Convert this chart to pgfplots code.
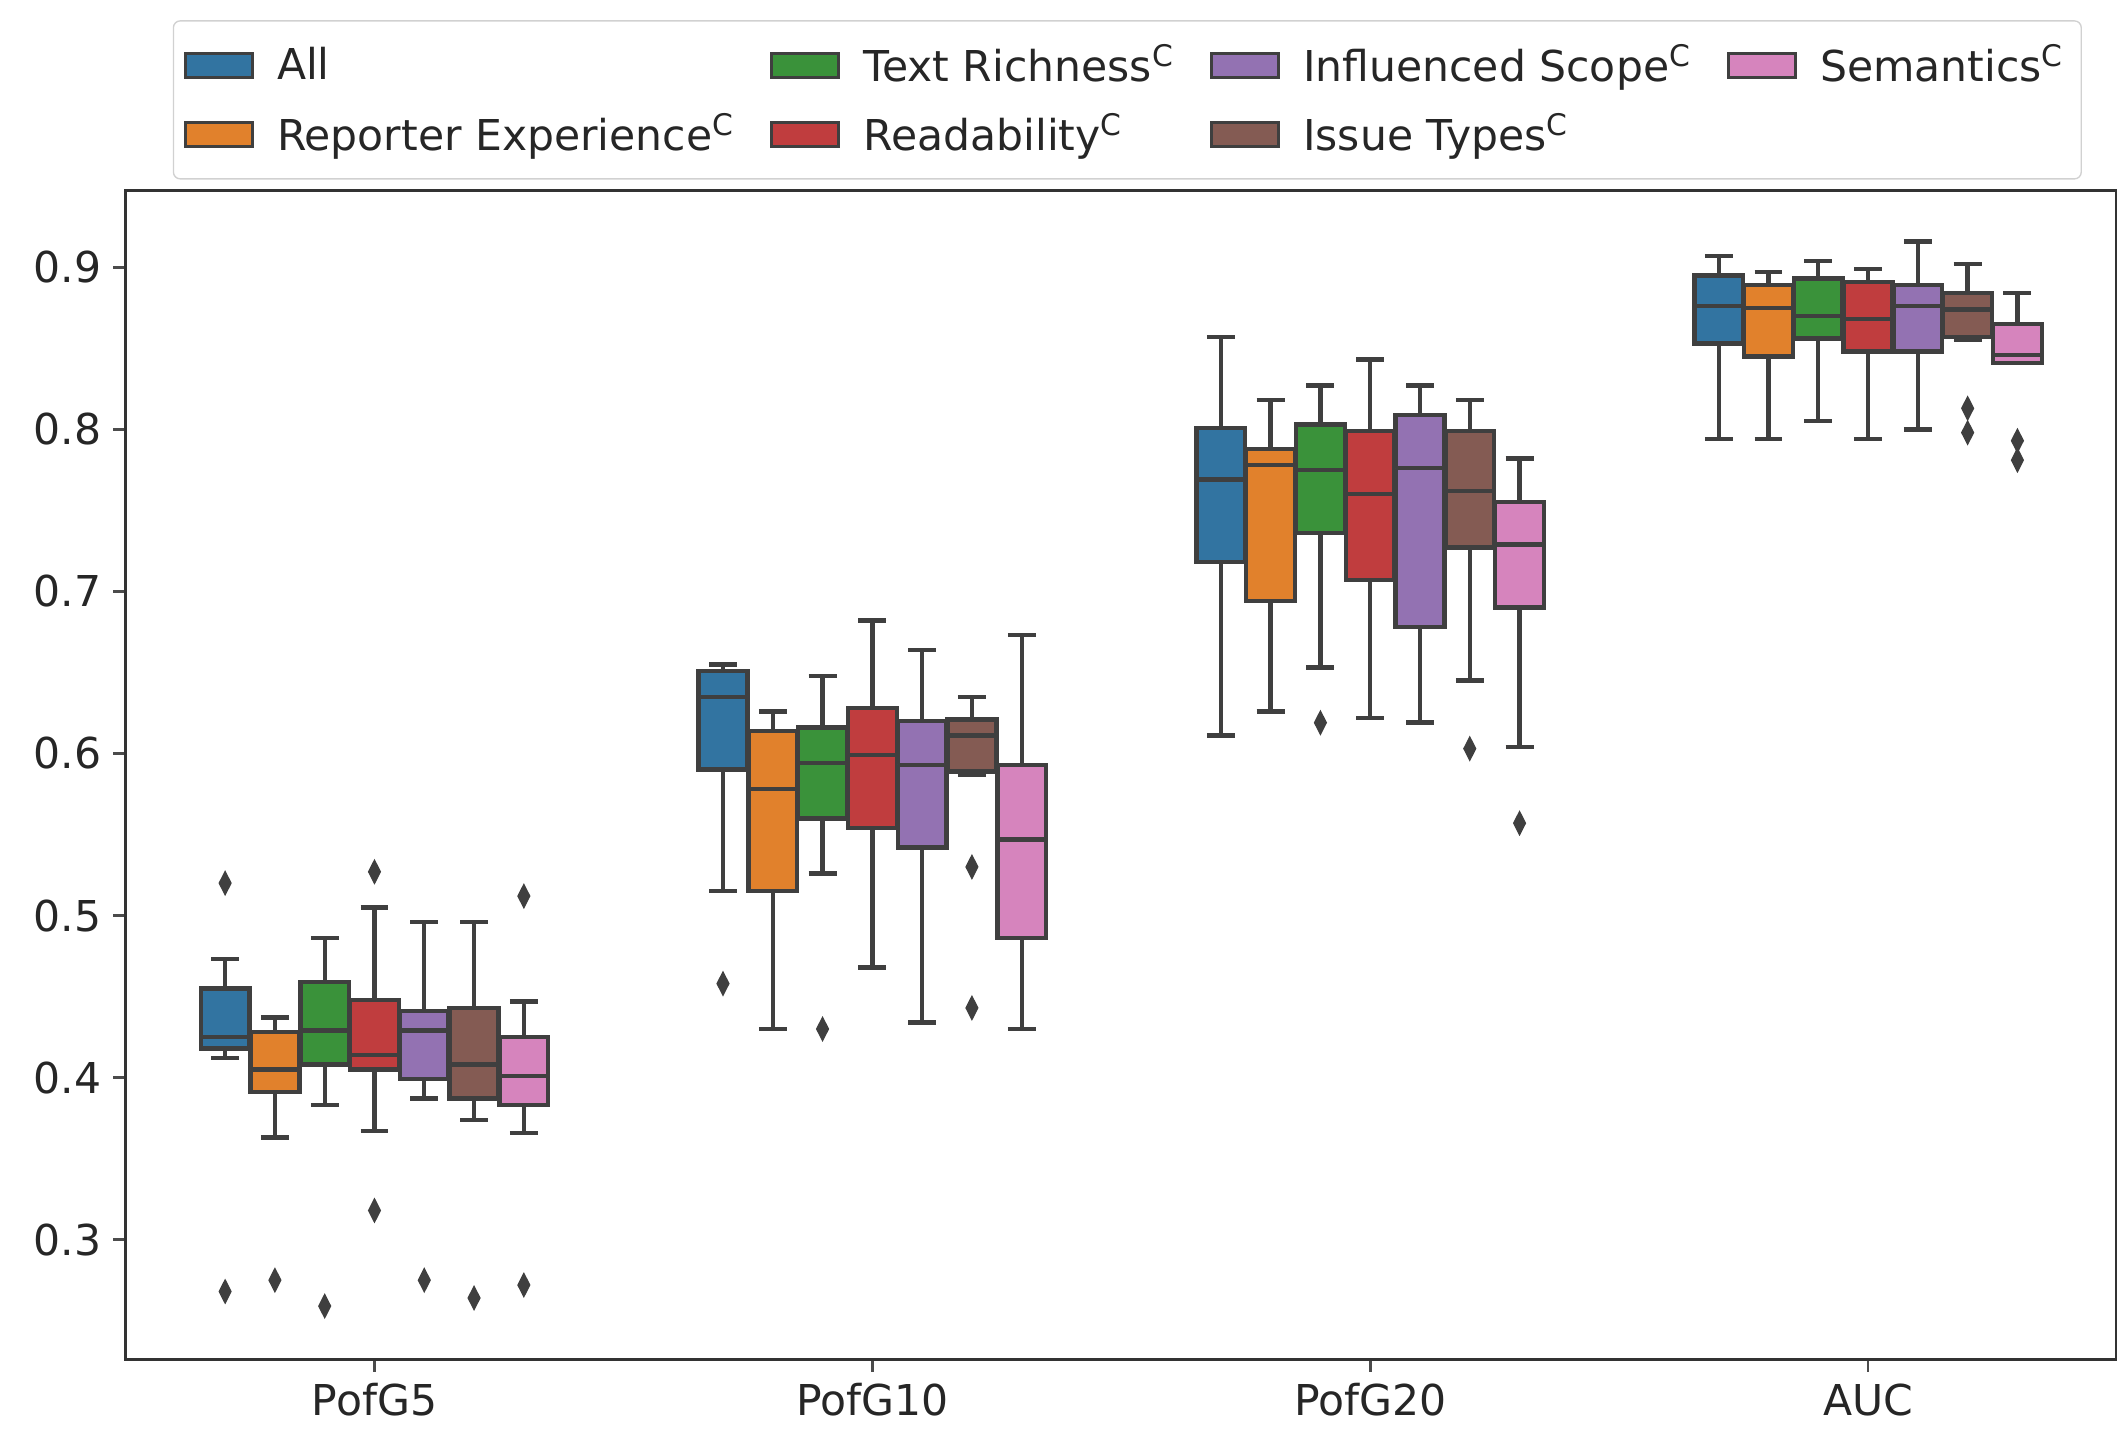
\documentclass[border=0pt]{standalone}
\usepackage{fontspec}
\setmainfont{DejaVu Sans}
\usepackage{pgfplots}
\pgfplotsset{compat=1.18}
\usepgfplotslibrary{statistics}

\definecolor{cAll}{HTML}{3274A1}
\definecolor{cRep}{HTML}{E1812C}
\definecolor{cTR}{HTML}{3A923A}
\definecolor{cRead}{HTML}{C03D3E}
\definecolor{cIS}{HTML}{9372B2}
\definecolor{cIT}{HTML}{845B53}
\definecolor{cSem}{HTML}{D684BD}
\definecolor{edge}{HTML}{3F3F3F}

\pgfplotsset{
  bxs/.style={forget plot, draw=edge, line width=1.3pt, solid,
    mark=diamond*, mark size=3.4pt,
    mark options={fill=edge, draw=edge, xscale=0.68, solid, line width=0.4pt},
    boxplot/draw direction=y,
    boxplot/box extend=0.098, boxplot/whisker extend=0.056},
  legpatch/.style={legend image code/.code={\draw[##1, draw=edge, line width=0.9pt, sharp corners] (0pt,-3.6pt) rectangle (20pt,3.6pt);}},
}

% position, colour, lower whisker, lower quartile, median, upper quartile, upper whisker, outliers
\newcommand{\bx}[8]{%
  \addplot[bxs, fill=#2, boxplot prepared={draw position=#1, lower whisker=#3,
    lower quartile=#4, median=#5, upper quartile=#6, upper whisker=#7}] coordinates {#8};}

\begin{document}
\begin{tikzpicture}
\begin{axis}[
  at={(37.2pt,20.4pt)}, anchor=south west,
  scale only axis, width=590pt, height=346.4pt,
  xmin=-0.5, xmax=3.5, ymin=0.226, ymax=0.9475,
  xtick={0,1,2,3}, xticklabels={PofG5,PofG10,PofG20,AUC},
  ytick={0.3,0.4,0.5,0.6,0.7,0.8,0.9},
  yticklabel style={/pgf/number format/.cd, fixed, precision=1, zerofill},
  /pgf/number format/assume math mode=true,
  tick label style={font=\fontsize{12.6}{14}\selectfont, text=black!85},
  tick align=outside, major tick length=3.6pt,
  xtick pos=bottom, ytick pos=left,
  tick style={draw=black!70, line width=0.8pt},
  axis line style={draw=black!80, line width=1pt},
  legend columns=4,
  legend cell align=left,
  legend style={at={(0.0237,1.1455)}, anchor=north west,
    draw=black!18, rounded corners=2pt, fill=white,
    font=\fontsize{12.6}{14}\selectfont, text=black!85,
    row sep=4pt, inner xsep=3pt, inner ysep=5pt,
    /tikz/every odd column/.append style={column sep=4.8pt},
    /tikz/every even column/.append style={column sep=8.4pt}},
]
% PofG5
\bx{-0.3}{cAll}{0.412}{0.418}{0.425}{0.455}{0.473}{(0,0.520) (0,0.268)}
\bx{-0.2}{cRep}{0.363}{0.391}{0.405}{0.428}{0.437}{(0,0.275)}
\bx{-0.1}{cTR}{0.383}{0.408}{0.429}{0.459}{0.486}{(0,0.259)}
\bx{0.0}{cRead}{0.367}{0.405}{0.414}{0.448}{0.505}{(0,0.527) (0,0.318)}
\bx{0.1}{cIS}{0.387}{0.399}{0.429}{0.441}{0.496}{(0,0.275)}
\bx{0.2}{cIT}{0.374}{0.387}{0.408}{0.443}{0.496}{(0,0.264)}
\bx{0.3}{cSem}{0.366}{0.383}{0.401}{0.425}{0.447}{(0,0.512) (0,0.272)}
% PofG10
\bx{0.7}{cAll}{0.515}{0.590}{0.635}{0.651}{0.655}{(0,0.458)}
\bx{0.8}{cRep}{0.430}{0.515}{0.578}{0.614}{0.626}{}
\bx{0.9}{cTR}{0.526}{0.560}{0.594}{0.616}{0.648}{(0,0.430)}
\bx{1.0}{cRead}{0.468}{0.554}{0.599}{0.628}{0.682}{}
\bx{1.1}{cIS}{0.434}{0.542}{0.593}{0.620}{0.664}{}
\bx{1.2}{cIT}{0.587}{0.589}{0.611}{0.621}{0.635}{(0,0.530) (0,0.443)}
\bx{1.3}{cSem}{0.430}{0.486}{0.547}{0.593}{0.673}{}
% PofG20
\bx{1.7}{cAll}{0.611}{0.718}{0.769}{0.801}{0.857}{}
\bx{1.8}{cRep}{0.626}{0.694}{0.778}{0.788}{0.818}{}
\bx{1.9}{cTR}{0.653}{0.736}{0.775}{0.803}{0.827}{(0,0.619)}
\bx{2.0}{cRead}{0.622}{0.707}{0.760}{0.799}{0.843}{}
\bx{2.1}{cIS}{0.619}{0.678}{0.776}{0.809}{0.827}{}
\bx{2.2}{cIT}{0.645}{0.727}{0.762}{0.799}{0.818}{(0,0.603)}
\bx{2.3}{cSem}{0.604}{0.690}{0.729}{0.755}{0.782}{(0,0.557)}
% AUC
\bx{2.7}{cAll}{0.794}{0.853}{0.876}{0.895}{0.907}{}
\bx{2.8}{cRep}{0.794}{0.845}{0.875}{0.889}{0.897}{}
\bx{2.9}{cTR}{0.805}{0.856}{0.870}{0.893}{0.904}{}
\bx{3.0}{cRead}{0.794}{0.848}{0.868}{0.891}{0.899}{}
\bx{3.1}{cIS}{0.800}{0.848}{0.876}{0.889}{0.916}{}
\bx{3.2}{cIT}{0.855}{0.857}{0.874}{0.884}{0.902}{(0,0.813) (0,0.798)}
\bx{3.3}{cSem}{0.841}{0.841}{0.846}{0.865}{0.884}{(0,0.793) (0,0.781)}
% legend, row by row
\addlegendimage{legpatch, fill=cAll}\addlegendentry{All}
\addlegendimage{legpatch, fill=cTR}\addlegendentry{Text Richness\textsuperscript{C}}
\addlegendimage{legpatch, fill=cIS}\addlegendentry{Influenced Scope\textsuperscript{C}}
\addlegendimage{legpatch, fill=cSem}\addlegendentry{Semantics\textsuperscript{C}}
\addlegendimage{legpatch, fill=cRep}\addlegendentry{Reporter Experience\textsuperscript{C}}
\addlegendimage{legpatch, fill=cRead}\addlegendentry{Readability\textsuperscript{C}}
\addlegendimage{legpatch, fill=cIT}\addlegendentry{Issue Types\textsuperscript{C}}
\addlegendimage{empty legend}\addlegendentry{}
\end{axis}
\pgfresetboundingbox
\path[use as bounding box] (0,0) rectangle (627.2pt,423.2pt);
\end{tikzpicture}
\end{document}
